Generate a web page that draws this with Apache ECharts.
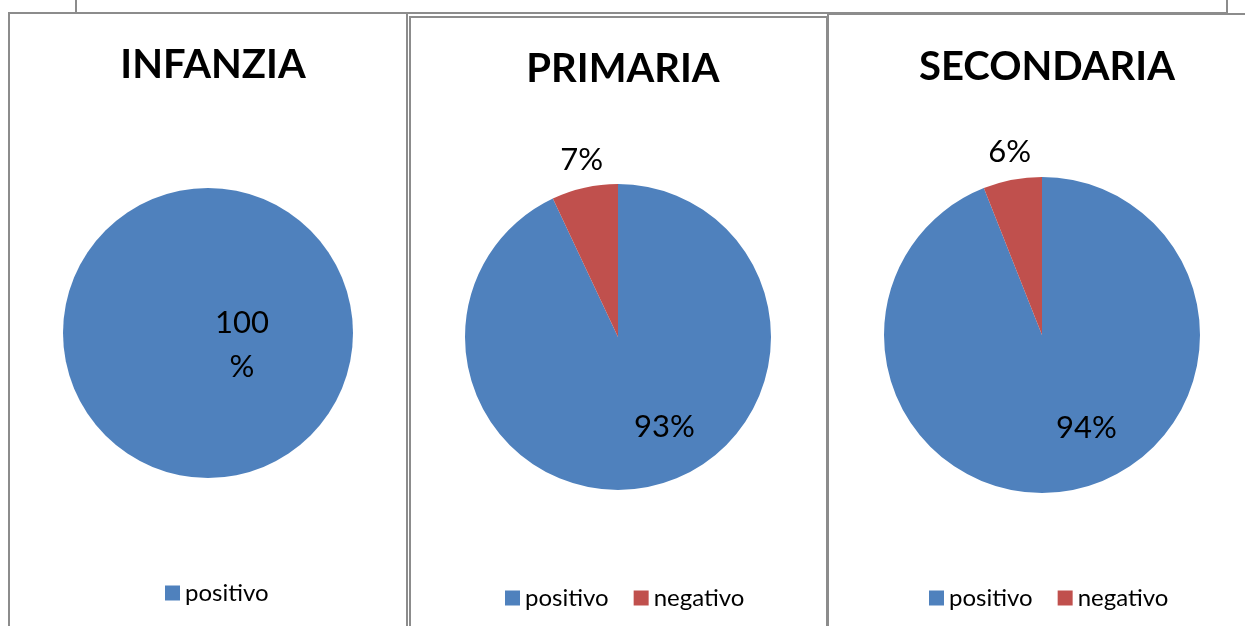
<!DOCTYPE html>
<html>
<head>
<meta charset="utf-8">
<script src="https://cdn.jsdelivr.net/npm/echarts@6/dist/echarts.min.js"></script>
<style>
  html, body { margin: 0; padding: 0; background: #fff; }
  #chart { width: 1245px; height: 626px; }
</style>
</head>
<body>
<div id="chart"></div>
<script>
// dati dei tre grafici
var panelTitles = ['INFANZIA', 'PRIMARIA', 'SECONDARIA']
var categories = ['positivo', 'negativo']
var infanziaValues = [100]
var primariaValues = [93, 7]
var secondariaValues = [94, 6]

var FONT = 'Lato'
var colors = ['#4F81BD', '#C0504D']

// centri e raggi dei grafici
var centers = [[208, 333], [618, 337], [1042, 335]]
var radii = [145, 153, 158]

function buildData(values) {
  return values.map(function (v, i) {
    var item = { name: categories[i], value: v }
    if (i === 1) {
      // fetta piccola: etichetta fuori
      item.label = {
        position: 'outside',
        align: 'center',
        offset: [26, -16]
      }
    }
    return item
  })
}

var chart = echarts.init(document.getElementById('chart'))

var series = [infanziaValues, primariaValues, secondariaValues].map(function (values, idx) {
  return {
    type: 'pie',
    center: centers[idx],
    radius: radii[idx],
    startAngle: 90,
    clockwise: true,
    silent: true,
    animation: false,
    data: buildData(values),
    label: {
      show: true,
      position: idx === 0 ? 'center' : 'inside',
      offset: idx === 0 ? [34, 12] : [29, 12],
      formatter: idx === 0 ? '{c}\n%' : '{c}%',
      color: '#000',
      fontFamily: FONT,
      fontSize: 31,
      lineHeight: 44
    },
    labelLine: { show: false, length: 12, length2: 0 },
    itemStyle: { borderWidth: 0 }
  }
})

chart.setOption({
  color: colors,
  title: panelTitles.map(function (t, i) {
    return {
      text: t,
      left: centers[i][0],
      textAlign: 'center',
      top: [40, 44, 42][i],
      textStyle: { fontFamily: FONT, fontWeight: 'bold', fontSize: 40, color: '#000' }
    }
  }),
  legend: [
    { data: ['positivo'], left: 160, top: 576 },
    { data: categories, left: 500, top: 581 },
    { data: categories, left: 924, top: 581 }
  ].map(function (l) {
    return Object.assign({
      orient: 'horizontal',
      icon: 'rect',
      itemWidth: 15,
      itemHeight: 15,
      itemGap: 25,
      selectedMode: false,
      textStyle: { fontFamily: FONT, fontSize: 24, color: '#000' }
    }, l)
  }),
  graphic: [
    // cornice superiore
    { type: 'rect', shape: { x: 76, y: -10, width: 1151, height: 23 }, style: { fill: 'none', stroke: '#8c8c8c', lineWidth: 2 } },
    // pannelli
    { type: 'rect', shape: { x: 9, y: 13, width: 398, height: 640 }, style: { fill: '#fff', stroke: '#8c8c8c', lineWidth: 2 }, z: -1 },
    { type: 'rect', shape: { x: 410, y: 17, width: 417, height: 640 }, style: { fill: '#fff', stroke: '#8c8c8c', lineWidth: 2 }, z: -1 },
    { type: 'rect', shape: { x: 828, y: 14, width: 440, height: 640 }, style: { fill: '#fff', stroke: '#8c8c8c', lineWidth: 2 }, z: -1 }
  ],
  series: series
})
</script>
</body>
</html>
